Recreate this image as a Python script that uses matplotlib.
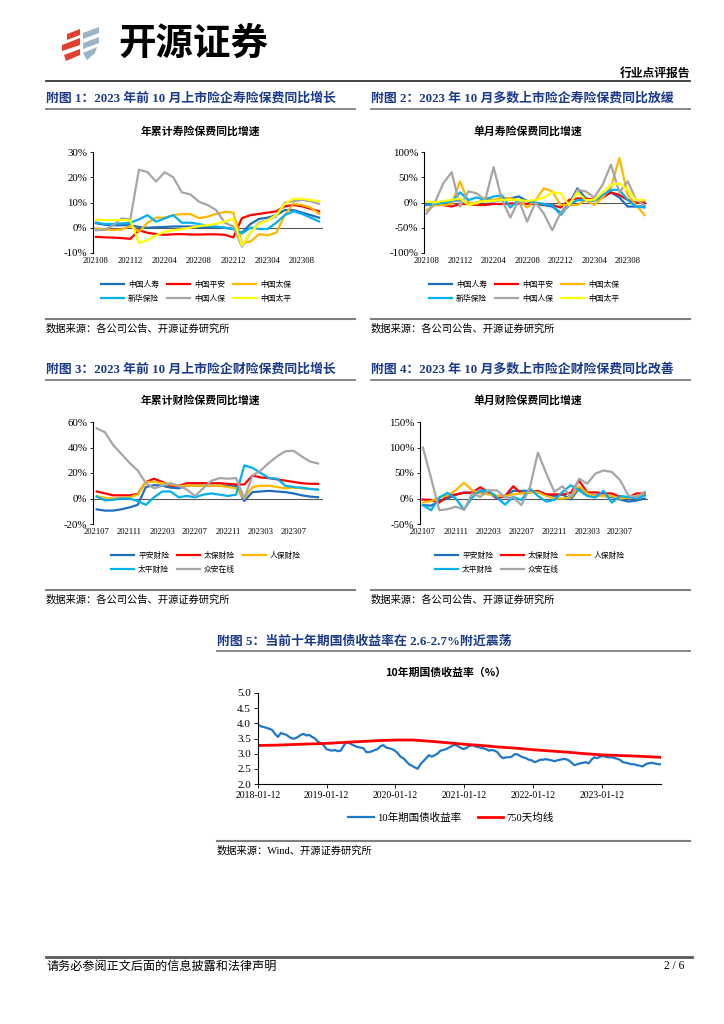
import numpy as np
import pandas as pd
import matplotlib
matplotlib.use('Agg')
import matplotlib.pyplot as plt
from matplotlib.lines import Line2D
from matplotlib.patches import Polygon

plt.rcParams['font.family'] = ['Liberation Serif', 'Noto Sans CJK SC']
plt.rcParams['axes.unicode_minus'] = False

W, H = 724, 1024
NAVY = '#1B3A8C'
CJK = ['Noto Sans CJK SC', 'DejaVu Sans']

# ---- 附图1 / 附图2: 寿险 (2021-08 .. 2023-10)
LIFE_TICKS = ['202108', '202112', '202204', '202208', '202212', '202304', '202308']
LIFE_NAMES = ['中国人寿', '中国平安', '中国太保', '新华保险', '中国人保', '中国太平']
LIFE_COLORS = ['#1F6FC0', '#FF0000', '#FFB800', '#00B0F0', '#A6A6A6', '#FFFF00']

gsrs_cum = [1.8, 1.2, 1.0, 1.0, 1.0, 0.3, 0.0, 0.2, 0.3, 0.5, 0.5, 0.5, 0.4, 0.3, 0.2, 0.0, -0.5,
            -2.0, 1.5, 3.5, 4.0, 5.0, 7.0, 7.0, 6.0, 5.0, 4.0]
pa_cum = [-3.6, -3.8, -3.9, -4.1, -4.4, -1.0, -2.0, -2.5, -2.8, -2.6, -2.5, -2.7, -2.7, -2.6, -2.6, -2.8, -3.8,
          3.8, 5.0, 5.5, 6.0, 6.5, 8.5, 9.0, 8.5, 7.5, 6.5]
cpic_cum = [-0.3, -0.7, -0.9, -0.7, 0.7, -1.6, 2.0, 4.0, 4.0, 5.0, 5.4, 5.4, 3.8, 4.4, 5.5, 6.3, 6.0,
            -6.0, -5.5, -2.5, -3.0, -2.0, 5.0, 9.5, 9.0, 8.0, 5.5]
nci_cum = [2.1, 1.5, 1.5, 1.7, 2.0, 3.3, 5.0, 2.4, 3.7, 5.0, 2.0, 2.0, 1.5, 0.7, 0.5, 0.0, -0.5,
           -2.3, 0.0, -0.5, -0.5, 2.0, 5.0, 6.5, 5.5, 4.0, 2.5]
picc_cum = [-1.0, -0.8, 1.0, 3.7, 3.3, 23.0, 22.0, 18.3, 22.0, 20.0, 14.0, 13.2, 10.3, 9.0, 7.0, 2.0, 0.5,
            -7.5, -2.0, 2.0, 3.0, 4.5, 10.0, 10.5, 11.0, 10.5, 9.5]
taiping_cum = [3.3, 3.0, 3.0, 3.0, 3.0, -6.0, -5.0, -3.0, -1.6, -1.0, -0.5, 0.0, 0.7, 1.0, 1.5, 2.5, 3.5,
               -7.0, -2.0, 1.5, 3.0, 5.0, 9.5, 11.5, 11.5, 11.0, 10.5]

gsrs_m = [-3, -3, 0, 3, 5, -3, 0, 3, 2, 5, 8, 12, 3, -3, -5, -8, -20, -3, 28, 8, 5, 10, 20, 10, -8, -8, -8]
pa_m = [-5, -5, -5, -8, -3, -3, -5, -5, -3, -3, -2, -2, -3, -3, -3, -5, -10, 5, 8, 8, 5, 10, 20, 15, 5, 0, 0]
cpic_m = [-15, -5, -5, -3, 42, 0, -3, 10, 5, 10, 8, 5, -10, 5, 28, 22, -5, -5, -5, 5, -5, 10, 30, 88, 15, -5, -25]
nci_m = [-5, -3, 0, 2, 20, 5, 10, 5, 12, 14, -10, 5, 3, 0, -3, -5, -25, -5, 5, 5, 3, 15, 25, 25, 5, -8, -10]
picc_m = [-22, 0, 38, 60, -8, 22, 18, 5, 70, 5, -30, 5, -38, 0, -22, -55, -20, -7, 25, 22, 10, 35, 75, 20, 42, 5, -5]
taiping_m = [2, 0, 3, 5, 8, -5, 0, 3, 3, 5, 5, 5, 3, 5, 10, 20, 18, -5, 20, 5, 5, 20, 35, 38, 25, 5, 5]

# ---- 附图3 / 附图4: 财险 (2021-07 .. 2023-10)
PC_TICKS = ['202107', '202111', '202203', '202207', '202211', '202303', '202307']
PC_NAMES = ['平安财险', '太保财险', '人保财险', '太平财险', '众安在线']
PC_COLORS = ['#1F6FC0', '#FF0000', '#FFB800', '#00B0F0', '#A6A6A6']

pa_pc = [-8.5, -9.5, -9.5, -8.5, -7.0, -5.0, 9.0, 10.5, 10.0, 8.5, 8.0, 10.0, 10.0, 10.0, 10.0, 10.0, 10.0, 10.0,
         -2.0, 5.0, 5.5, 6.0, 5.5, 5.0, 4.0, 2.5, 1.5, 1.0]
cpic_pc = [5.5, 4.0, 2.5, 2.5, 2.5, 3.5, 13.0, 15.5, 13.0, 10.0, 10.0, 12.0, 12.0, 12.0, 12.0, 12.0, 11.5, 11.0,
           11.0, 18.0, 16.5, 16.0, 15.0, 14.0, 13.0, 12.0, 11.5, 11.5]
picc_pc = [2.0, 0.5, 0.0, 0.5, 1.0, 3.0, 13.0, 13.0, 12.0, 11.0, 10.0, 10.0, 10.0, 10.0, 10.0, 10.0, 9.0, 8.0,
           0.0, 9.0, 10.0, 10.0, 9.0, 8.0, 8.5, 8.0, 7.5, 7.0]
taiping_pc = [1.5, -1.5, -1.0, 0.0, 0.0, -2.0, -5.0, 1.0, 5.5, 5.5, 1.0, 2.0, 1.0, 3.0, 4.0, 3.0, 2.0, 3.0,
              26.0, 24.0, 20.0, 16.0, 15.5, 10.0, 9.0, 8.5, 7.5, 7.0]
za_pc = [55, 52, 42, 35, 28, 22, 12, 8, 10, 12, 10, 7, 2, 8, 14, 16, 15.5, 16,
         0, 18, 22, 28, 33, 37, 37.5, 33, 29, 27.5]

pa_pcm = [-13, -14, -5, 0, 7, 12, 10, 12, 12, 5, 5, 15, 15, 15, 12, 8, 5, 8, -2, 20, 10, 6, 5, 3, -2, -6, -4, 0]
cpic_pcm = [-2, -3, -8, 5, 8, 11, 12, 22, 12, 0, 5, 24, 10, 12, 15, 8, 8, 8, 11, 35, 12, 12, 10, 10, 3, 2, 10, 10]
picc_pcm = [-8, -5, 2, 6, 16, 31, 16, 10, 8, 5, 5, 8, 10, 12, 12, 5, 0, 0, 2, 24, 10, 5, 5, 5, 0, 2, 5, 7]
taiping_pcm = [-13, -23, 2, 11, 0, -22, 2, 16, 15, 2, -12, 3, -3, 20, 5, -6, -3, 13, 26, 16, 5, 2, 15, -8, 5, 3, 0, 6]
za_pcm = [100, 40, -23, -21, -16, -22, 10, 3, 16, 16, 2, 2, -13, 20, 90, 50, 13, 24, 2, 39, 29, 49, 55, 52, 36, 6, 3, 13]

# ---- 附图5: 10年期国债收益率, read twice a month, 2018-01 .. 2023-11
bond_yield = [
    3.95, 3.90, 3.88, 3.85, 3.82, 3.78, 3.65, 3.55, 3.68, 3.65, 3.62, 3.55,
    3.50, 3.50, 3.55, 3.62, 3.65, 3.60, 3.62, 3.55, 3.50, 3.40, 3.35, 3.28,
    3.15, 3.12, 3.10, 3.12, 3.08, 3.10, 3.25, 3.38, 3.35, 3.30, 3.25, 3.22,
    3.20, 3.18, 3.05, 3.05, 3.08, 3.12, 3.15, 3.25, 3.28, 3.20, 3.18, 3.15,
    3.10, 3.02, 2.90, 2.85, 2.75, 2.65, 2.60, 2.55, 2.50, 2.65, 2.75, 2.85,
    2.95, 2.90, 2.95, 3.00, 3.10, 3.12, 3.15, 3.20, 3.25, 3.30, 3.25, 3.20,
    3.15, 3.18, 3.25, 3.28, 3.25, 3.22, 3.20, 3.18, 3.15, 3.10, 3.12, 3.10,
    3.05, 2.92, 2.85, 2.88, 2.88, 2.90, 2.98, 2.98, 2.92, 2.88, 2.85, 2.80,
    2.78, 2.72, 2.75, 2.80, 2.80, 2.82, 2.80, 2.78, 2.75, 2.78, 2.80, 2.82,
    2.82, 2.78, 2.70, 2.62, 2.65, 2.68, 2.70, 2.72, 2.68, 2.80, 2.88, 2.85,
    2.90, 2.92, 2.90, 2.88, 2.88, 2.86, 2.83, 2.80, 2.72, 2.70, 2.68, 2.65,
    2.65, 2.62, 2.60, 2.58, 2.65, 2.68, 2.70, 2.68, 2.66, 2.65,
]
ma_dates = ['2018-01-12', '2018-04-12', '2018-07-12', '2018-10-12', '2019-01-12', '2019-04-12',
            '2019-07-12', '2019-10-12', '2020-01-12', '2020-04-12', '2020-07-12', '2020-10-12',
            '2021-01-12', '2021-04-12', '2021-07-12', '2021-10-12', '2022-01-12', '2022-04-12',
            '2022-07-12', '2022-10-12', '2023-01-12', '2023-04-12', '2023-07-12', '2023-11-16']
ma750 = [3.27, 3.28, 3.30, 3.32, 3.34, 3.37, 3.40, 3.43, 3.45, 3.45, 3.41, 3.36,
         3.31, 3.27, 3.22, 3.18, 3.13, 3.09, 3.05, 3.00, 2.96, 2.94, 2.92, 2.88]
BOND_TICKS = ['2018-01-12', '2019-01-12', '2020-01-12', '2021-01-12', '2022-01-12', '2023-01-12']

fig = plt.figure(figsize=(7.24, 10.24), dpi=100)


def fx(x):
    return x / W


def fy(y):
    return 1 - y / H


def rule(x0, x1, y, color='#7F7F7F', lw=1.3):
    fig.add_artist(Line2D([fx(x0), fx(x1)], [fy(y), fy(y)], transform=fig.transFigure,
                          color=color, lw=lw))


def put(x, y, s, size, ha='left', weight='normal', color='black', family=None):
    kw = {} if family is None else {'family': family}
    fig.text(fx(x), fy(y), s, fontsize=size, ha=ha, va='center', weight=weight, color=color, **kw)


def row_major(items, ncol):
    rows = [items[i:i + ncol] for i in range(0, len(items), ncol)]
    out = []
    for c in range(ncol):
        for r in rows:
            if c < len(r):
                out.append(r[c])
    return out


def line_chart(box, series, names, colors, ylim, ystep, xlim, ticks, legend_xy):
    left, right, top, bottom = box
    ax = fig.add_axes([fx(left), fy(bottom), (right - left) / W, (bottom - top) / H])
    ax.patch.set_alpha(0)
    x = np.arange(len(series[0]))
    ax.axhline(0, color='#595959', lw=0.8, zorder=1)
    handles = []
    for vals, c in zip(series, colors):
        h, = ax.plot(x, vals, color=c, lw=1.6, zorder=2)
        handles.append(h)
    ax.set_xlim(*xlim)
    ax.set_ylim(*ylim)
    yt = np.arange(ylim[0], ylim[1] + 1, ystep)
    ax.set_yticks(yt)
    ax.set_yticklabels([f'{v:d}%' for v in yt], fontsize=7.8)
    ax.set_xticks(x[::4])
    ax.set_xticklabels(ticks, fontsize=6.2)
    ax.tick_params(axis='x', length=0, pad=3)
    ax.tick_params(axis='y', length=2.5, width=0.6, pad=1.5)
    for s in ['top', 'right', 'bottom']:
        ax.spines[s].set_visible(False)
    ax.spines['left'].set_linewidth(0.8)
    fig.legend(row_major(handles, 3), row_major(names, 3), ncol=3, loc='center',
               bbox_to_anchor=(fx(legend_xy[0]), fy(legend_xy[1])), frameon=False,
               prop={'family': CJK, 'size': 5.6}, handlelength=3.0, handletextpad=0.5,
               columnspacing=1.0, labelspacing=0.75)
    return ax


# ---- header
logo_red = [[(67, 34), (80, 29), (80, 35), (67, 40)],
            [(62, 45), (80, 38), (80, 45), (62, 51)],
            [(64, 55), (80, 49), (80, 55), (66, 61)]]
logo_blue = [[(83, 33), (99, 27), (99, 33), (83, 39)],
             [(83, 43), (99, 37), (99, 43), (83, 49)],
             [(83, 53), (97, 47), (95, 53), (87, 60)]]
for poly in logo_red:
    fig.add_artist(Polygon([(fx(a), fy(b)) for a, b in poly], closed=True,
                           transform=fig.transFigure, color='#E0402E', lw=0))
for poly in logo_blue:
    fig.add_artist(Polygon([(fx(a), fy(b)) for a, b in poly], closed=True,
                           transform=fig.transFigure, color='#9DB3C6', lw=0))
put(118, 43, '开源证券', 27, weight='bold', family=CJK)
put(690, 73, '行业点评报告', 8.5, ha='right', weight='bold', family=CJK)
rule(46, 690, 81, color='#222222', lw=1.2)

# ---- panel titles, rules and sources
panels = [
    (46, 355, 98, 109, 319, 329, '附图 1：2023 年前 10 月上市险企寿险保费同比增长'),
    (371, 690, 98, 109, 319, 329, '附图 2：2023 年 10 月多数上市险企寿险保费同比放缓'),
    (46, 355, 369, 380, 590, 600, '附图 3：2023 年前 10 月上市险企财险保费同比增长'),
    (371, 690, 369, 380, 590, 600, '附图 4：2023 年 10 月多数上市险企财险保费同比改善'),
]
for x0, x1, yt, yl, ys, yst, title in panels:
    put(x0, yt, title, 9.3, weight='bold', color=NAVY)
    rule(x0, x1, yl)
    rule(x0, x1, ys, lw=1.5)
    put(x0, yst, '数据来源：各公司公告、开源证券研究所', 7.4, family=CJK)

put(200, 131, '年累计寿险保费同比增速', 7.8, ha='center', weight='bold', family=CJK)
put(528, 131, '单月寿险保费同比增速', 7.8, ha='center', weight='bold', family=CJK)
put(200, 400, '年累计财险保费同比增速', 7.8, ha='center', weight='bold', family=CJK)
put(528, 400, '单月财险保费同比增速', 7.8, ha='center', weight='bold', family=CJK)

line_chart((93, 323, 152, 253),
           [gsrs_cum, pa_cum, cpic_cum, nci_cum, picc_cum, taiping_cum],
           LIFE_NAMES, LIFE_COLORS, (-10, 30), 10, (-0.35, 26.45), LIFE_TICKS, (196, 292))
line_chart((424, 647, 152, 253),
           [gsrs_m, pa_m, cpic_m, nci_m, picc_m, taiping_m],
           LIFE_NAMES, LIFE_COLORS, (-100, 100), 50, (-0.3, 26.3), LIFE_TICKS, (524, 292))
line_chart((93, 323, 422, 524),
           [pa_pc, cpic_pc, picc_pc, taiping_pc, za_pc],
           PC_NAMES, PC_COLORS, (-20, 60), 20, (-0.45, 27.6), PC_TICKS, (206, 563))
line_chart((420, 648, 422, 524),
           [pa_pcm, cpic_pcm, picc_pcm, taiping_pcm, za_pcm],
           PC_NAMES, PC_COLORS, (-50, 150), 50, (-0.35, 27.4), PC_TICKS, (530, 563))

# ---- 附图5
put(217, 641, '附图 5：当前十年期国债收益率在 2.6-2.7%附近震荡', 9.3, weight='bold', color=NAVY)
rule(217, 690, 651)
rule(217, 690, 841, lw=1.5)
put(217, 851, '数据来源：Wind、开源证券研究所', 7.4)
put(446, 673, '10年期国债收益率（%）', 7.8, ha='center', weight='bold', family=CJK)

ax5 = fig.add_axes([fx(258), fy(784), (661 - 258) / W, (784 - 693) / H])
ax5.patch.set_alpha(0)
bond_dates = pd.date_range('2018-01-12', '2023-11-16', periods=len(bond_yield))
h1, = ax5.plot(bond_dates, bond_yield, color='#1F78C8', lw=1.6, label='10年期国债收益率')
h2, = ax5.plot(pd.to_datetime(ma_dates), ma750, color='#FF0000', lw=2.0, label='750天均线')
ax5.set_xlim(pd.Timestamp('2018-01-12'), pd.Timestamp('2023-11-22'))
ax5.set_ylim(2.0, 5.0)
ax5.set_yticks(np.arange(2.0, 5.01, 0.5))
ax5.set_yticklabels([f'{v:.1f}' for v in np.arange(2.0, 5.01, 0.5)], fontsize=8)
ax5.set_xticks(pd.to_datetime(BOND_TICKS))
ax5.set_xticklabels(BOND_TICKS, fontsize=7)
ax5.tick_params(length=3, width=0.6, pad=2)
for s in ['top', 'right']:
    ax5.spines[s].set_visible(False)
for s in ['left', 'bottom']:
    ax5.spines[s].set_linewidth(0.8)
fig.legend([h1, h2], ['10年期国债收益率', '750天均线'], ncol=2, loc='center',
           bbox_to_anchor=(fx(451), fy(818)), frameon=False, prop={'size': 7.6},
           handlelength=2.4, handletextpad=0.3, columnspacing=1.6)

# ---- footer
rule(46, 692, 957, color='#595959', lw=2.0)
put(46, 966, '请务必参阅正文后面的信息披露和法律声明', 8.7, family=CJK)
put(684, 966, '2 / 6', 8.3, ha='right')

fig.savefig('out.png', dpi=100)
